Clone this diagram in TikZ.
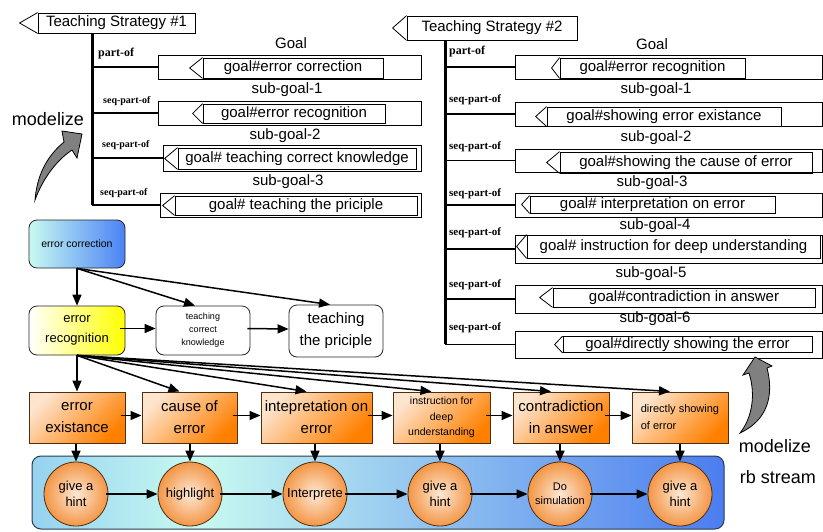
\documentclass[tikz,border=0pt]{standalone}
\usepackage{fontspec}
\setmainfont{Liberation Sans}
\newfontfamily\relfont{Liberation Serif}
\usepackage{tikz}
\usetikzlibrary{arrows.meta, shapes, positioning, calc}

\definecolor{EcLight}{RGB}{200,250,240}
\definecolor{EcDark}{RGB}{75,130,245}
\definecolor{ActLight}{RGB}{253,228,205}
\definecolor{ActDark}{RGB}{255,128,0}
\definecolor{ActBorder}{RGB}{80,45,15}
\definecolor{HintLight}{RGB}{253,232,212}
\definecolor{HintDark}{RGB}{243,150,70}
\definecolor{StreamA}{RGB}{150,210,240}
\definecolor{StreamB}{RGB}{200,250,240}
\definecolor{StreamC}{RGB}{75,125,240}
\definecolor{StreamBorder}{RGB}{40,60,80}

\pgfdeclarehorizontalshading{streamshading}{100bp}{color(0bp)=(StreamA); color(25bp)=(StreamA); color(37bp)=(StreamB); color(75bp)=(StreamC); color(100bp)=(StreamC)}

\tikzstyle{arrow} = [line width=1.5pt, -{Triangle[length=11pt,width=9pt]}]
\tikzstyle{goalbox} = [draw, line width=0.8pt, inner sep=0pt]
\tikzstyle{flag} = [draw, line width=0.8pt, inner sep=0pt, font=\fontsize{15}{18}\selectfont]
\tikzstyle{goaltitle} = [inner sep=0pt, font=\fontsize{15}{18}\selectfont]
\tikzstyle{relation} = [anchor=south west, inner sep=0pt, font=\relfont\bfseries\fontsize{10}{12}\selectfont]
\tikzstyle{trunk} = [line width=3pt]
\tikzstyle{branch} = [line width=1.8pt]
\tikzstyle{flowbox} = [draw=black!85, line width=0.8pt, rounded corners=8pt, align=center, inner sep=1pt, minimum width=96pt, minimum height=49pt]
\tikzstyle{actbox} = [draw=ActBorder, line width=1pt, align=center, inner sep=1pt, minimum height=51pt, top color=ActLight, bottom color=ActDark, shading angle=45, font=\fontsize{15}{22}\selectfont]
\tikzstyle{hint} = [circle, draw=ActBorder, line width=0.8pt, minimum size=64pt, inner sep=0pt, align=center, inner color=HintLight, outer color=HintDark, font=\fontsize{13}{16}\selectfont]
\tikzstyle{modeltext} = [inner sep=0pt, font=\fontsize{18}{20}\selectfont]

\begin{document}
\begin{tikzpicture}[x=1pt, y=-1pt]
\useasboundingbox (0,0) rectangle (823,531);

% teaching strategy 1
\node[flag, minimum width=157pt, minimum height=20pt] (s1) at (116.5,23) {Teaching Strategy \#1};
\coordinate (t1) at (92,205);
\draw[trunk] (t1 |- s1.south) -- (t1);

\node[goalbox, minimum width=263pt, minimum height=24pt] (o11) at (289.5,67) {};
\node[goalbox, minimum width=263pt, minimum height=24pt] (o12) at (289.5,113) {};
\node[goalbox, minimum width=258pt, minimum height=26pt] (o13) at (292,158) {};
\node[goalbox, minimum width=261pt, minimum height=24pt] (o14) at (290.5,205) {};

\node[flag, minimum width=180pt, minimum height=20pt] (f11) at (293,68) {goal\#error correction};
\node[flag, minimum width=182pt, minimum height=19pt] (f12) at (294,113.5) {goal\#error recognition};
\node[flag, minimum width=238pt, minimum height=21pt] (f13) at (297,158.5) {goal\# teaching correct knowledge};
\node[flag, minimum width=242pt, minimum height=19pt] (f14) at (296,205.5) {goal\# teaching the priciple};

\node[goaltitle] (goal1) at (291,43) {Goal};
\node[goaltitle] (sub11) at (287,90) {sub-goal-1};
\node[goaltitle] (sub12) at (285,136) {sub-goal-2};
\node[goaltitle] (sub13) at (288,182) {sub-goal-3};

\node[relation, font=\relfont\bfseries\fontsize{12}{14}\selectfont] (rel10) at (98,59) {part-of};
\foreach \x/\y [count=\i] in {103/106,102/150,100/198}
  \node[relation] (rel1\i) at (\x,\y) {seq-part-of};

\draw[branch, line width=2.6pt] (t1 |- o11.west) -- (o11.west);
\foreach \i in {2,3,4}
  \draw[branch] (t1 |- o1\i.west) -- (o1\i.west);

% teaching strategy 2
\node[flag, minimum width=170pt, minimum height=24pt] (s2) at (492,28) {Teaching Strategy \#2};
\coordinate (t2) at (445,344);
\draw[trunk] (t2 |- s2.south) -- (t2);

\foreach \c/\h [count=\i] in {67/24,114/24,160.5/23,205/24,249/28,299/28,344.5/27}
  \node[goalbox, minimum width=307pt, minimum height=\h pt] (o2\i) at (668.5,\c) {};

\node[flag, minimum width=185pt, minimum height=20pt] (f21) at (652.5,68) {goal\#error recognition};
\node[flag, minimum width=234pt, minimum height=19pt] (f22) at (664,116.5) {goal\#showing error existance};
\node[flag, minimum width=252pt, minimum height=21pt] (f23) at (686,162.5) {goal\#showing the cause of error};
\node[flag, minimum width=245pt, minimum height=17pt] (f24) at (652.5,204.5) {goal\# interpretation on error};
\node[flag, minimum width=293pt, minimum height=23pt] (f25) at (673.5,246.5) {goal\# instruction for deep understanding};
\node[flag, minimum width=262pt, minimum height=19pt] (f26) at (684,297.5) {goal\#contradiction in answer};
\node[flag, minimum width=249pt, minimum height=16pt] (f27) at (687.5,344.5) {goal\#directly showing the error};

\node[goaltitle] (goal2) at (652,44) {Goal};
\node[goaltitle] (sub21) at (656,90) {sub-goal-1};
\node[goaltitle] (sub22) at (656,138) {sub-goal-2};
\node[goaltitle] (sub23) at (652,183) {sub-goal-3};
\node[goaltitle] (sub24) at (655,226) {sub-goal-4};
\node[goaltitle] (sub25) at (651,274) {sub-goal-5};
\node[goaltitle] (sub26) at (655,319) {sub-goal-6};

\node[relation, font=\relfont\bfseries\fontsize{12}{14}\selectfont] (rel20) at (449,57) {part-of};
\foreach \y [count=\i] in {105,152,199,238,290,333}
  \node[relation, font=\relfont\bfseries\fontsize{11}{13}\selectfont] (rel2\i) at (449,\y) {seq-part-of};

\draw[branch, line width=2.4pt] (t2 |- o21.west) -- (o21.west);
\foreach \i in {2,...,7}
  \draw[branch] (t2 |- o2\i.west) -- (o2\i.west);

% flag points
\foreach \n/\d in {s1/18,s2/14,f11/13,f12/10,f13/13,f14/12,f21/8,f22/11,f23/13,f24/8,f25/10,f26/13,f27/8}
  \draw[line width=0.8pt] (\n.north west) -- ([xshift=-\d pt]\n.west) -- (\n.south west);

% modelize arrows
\node[modeltext] (mod1) at (48,119) {modelize};
\draw[fill=gray, line width=0.8pt] (35,200) .. controls (37,176) and (46,157) .. (64,142) -- (62,131) -- (82,134) -- (77,158) -- (72,150) .. controls (57,160) and (43,178) .. cycle;
\node[modeltext] (mod2) at (775,446) {modelize};
\node[modeltext] (rbs) at (778,477) {rb stream};
\draw[fill=gray, line width=0.8pt] (740,433) .. controls (752,418) and (756,395) .. (749,373) -- (743,375) -- (755,357) -- (772,366) -- (767,368) .. controls (774,395) and (768,420) .. cycle;

% goal flow
\node[flowbox, minimum height=48pt, left color=EcLight, right color=EcDark, font=\fontsize{10.5}{12}\selectfont] (ec) at (77,244) {error correction};
\node[flowbox, left color=white, right color=yellow, font=\fontsize{13}{20}\selectfont] (er) at (77,330.5) {error\\recognition};
\node[flowbox, minimum width=94pt, font=\fontsize{9}{13}\selectfont] (tck) at (203,330.5) {teaching\\correct\\knowledge};
\node[flowbox, minimum width=94pt, minimum height=52pt, font=\fontsize{15}{22}\selectfont] (ttp) at (336,331) {teaching\\the priciple};

\draw[arrow] (ec.south) -- (er.north);
\draw[arrow] (ec.south) -- ([xshift=-8pt]tck.north);
\draw[arrow] (ec.south) -- ([xshift=-6pt]ttp.north);
\draw[arrow] ([xshift=-5pt,yshift=2pt]er.east) -- ([yshift=2pt]tck.west);
\draw[arrow] ([xshift=-3pt,yshift=2pt]tck.east) -- ([yshift=2pt]ttp.west);

% actions
\node[actbox, minimum width=96pt] (b1) at (77,417.5) {error\\existance};
\node[actbox, minimum width=95pt] (b2) at (189.5,417.5) {cause of\\error};
\node[actbox, minimum width=111pt] (b3) at (316.5,417.5) {intepretation on\\error};
\node[actbox, minimum width=97pt, font=\fontsize{10.5}{15.5}\selectfont] (b4) at (441.5,417.5) {instruction for\\deep\\understanding};
\node[actbox, minimum width=96pt] (b5) at (561,417.5) {contradiction\\in answer};
\node[actbox, minimum width=96pt, align=left, font=\fontsize{11}{17}\selectfont] (b6) at (680,417.5) {directly showing\\of error};

\draw[arrow] (er.south) -- (b1.north);
\foreach \i in {2,...,6}
  \draw[arrow] (er.south) -- ([xshift=-10pt]b\i.north);
\foreach \i [count=\j from 2] in {1,...,5}
  \draw[arrow] ([xshift=-5pt,yshift=2pt]b\i.east) -- ([yshift=2pt]b\j.west);

% rb stream
\node[draw=StreamBorder, line width=1pt, rounded corners=9pt, shade, shading=streamshading, minimum width=692pt, minimum height=73pt, inner sep=0pt] (stream) at (378,492.5) {};

\node[hint] (c1) at (76,494) {give a\\hint};
\node[hint] (c2) at (190,494) {highlight};
\node[hint] (c3) at (315,494) {Interprete};
\node[hint] (c4) at (440,494) {give a\\hint};
\node[hint, font=\fontsize{11}{14}\selectfont] (c5) at (560,494) {Do\\simulation};
\node[hint] (c6) at (680,494) {give a\\hint};

\foreach \i in {1,...,6}
  \draw[arrow] (b\i.south -| c\i.north) -- (c\i.north);
\foreach \i [count=\j from 2] in {1,...,5}
  \draw[arrow] ([xshift=-2pt]c\i.east) -- (c\j.west);

\end{tikzpicture}
\end{document}
